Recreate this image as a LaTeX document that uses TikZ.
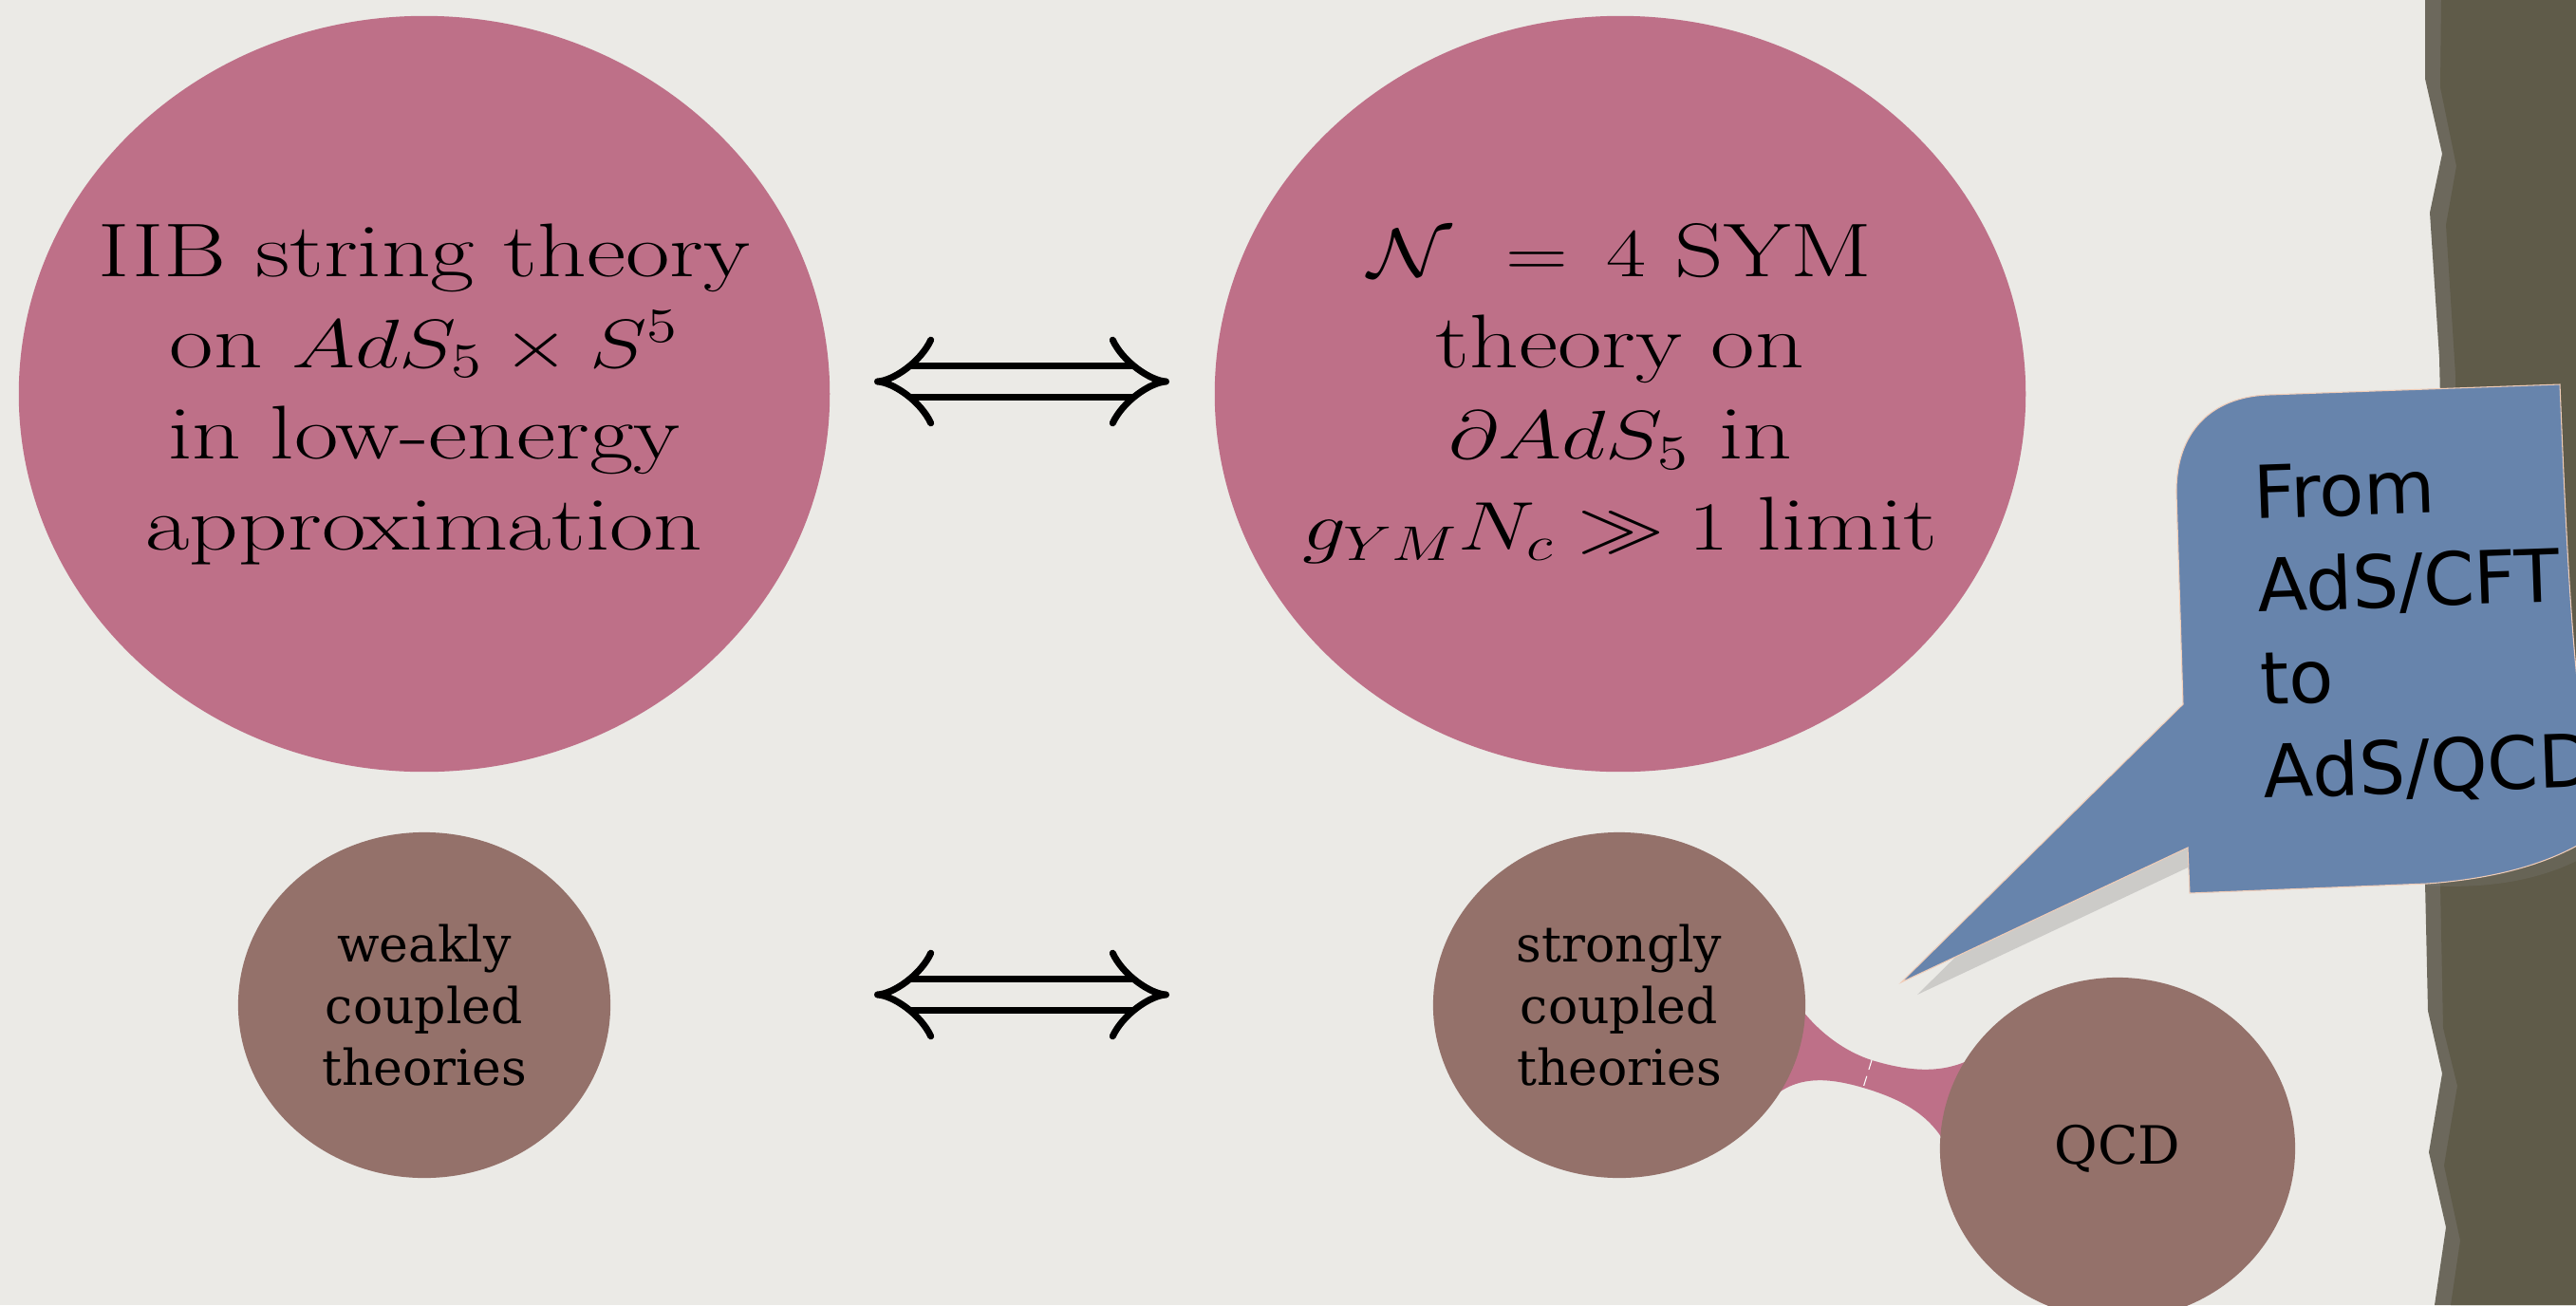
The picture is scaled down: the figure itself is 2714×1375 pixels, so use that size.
\RequirePackage{fix-cm}
\documentclass[tikz,border=0pt]{standalone}
\usepackage{amsmath,amssymb}
\usepackage{graphicx}
\usepackage{fontspec}
\usetikzlibrary{arrows.meta,shapes.geometric,positioning}

\newfontfamily\dvserif{DejaVu Serif}
\newfontfamily\dvsans{DejaVu Sans}
\DeclareMathSizes{22.8}{20.6}{14.6}{10.5}

\definecolor{bgcol}{HTML}{EBEAE6}
\definecolor{blobpink}{HTML}{BE7088}
\definecolor{blobbrown}{HTML}{94716A}
\definecolor{notecol}{HTML}{6784AC}
\definecolor{noteedge}{HTML}{F0CDB8}
\definecolor{stripdark}{HTML}{5F5B49}
\definecolor{striplight}{HTML}{6C685C}
\definecolor{shadowcol}{HTML}{CCCBC8}

% stretched math/text block for the big ellipses
\newcommand{\widetext}[1]{\scalebox{1.26}[1]{\parbox{7cm}{\centering #1}}}

\begin{document}
\begin{tikzpicture}[x=0.01cm,y=-0.01cm,
  bigblob/.style={ellipse,fill=blobpink,minimum width=8.54cm,minimum height=7.96cm,inner sep=0pt},
  bigtext/.style={inner sep=0pt,font=\fontsize{22.8}{27.3}\selectfont},
  smallblob/.style={ellipse,fill=blobbrown,minimum width=3.92cm,minimum height=3.64cm,inner sep=0pt,
    align=center,font=\dvserif\fontsize{14.8}{18.5}\selectfont},
  equiv/.style={double=bgcol,double distance=7.4pt,line width=2pt,Implies-Implies},
  notetext/.style={inner sep=0pt,align=left,font=\dvsans\fontsize{21.9}{27.9}\selectfont}]
\useasboundingbox (0,0) rectangle (2714,1375);
\fill[bgcol] (0,0) rectangle (2714,1375);

% torn strip on the right
\fill[striplight] (2555,0)--(2555,83)--(2573,162)--(2560,224)--(2570,377)--(2571,420)--(2560,600)
  --(2568,760)--(2555,930)--(2558,1065)--(2573,1131)--(2559,1214)--(2577,1293)--(2565,1375)
  --(2714,1375)--(2714,0)--cycle;
\fill[stripdark] (2572,0)--(2571,92)--(2588,175)--(2577,237)--(2587,395)--(2587,420)--(2576,600)
  --(2584,760)--(2571,930)--(2574,1083)--(2589,1144)--(2575,1228)--(2592,1307)--(2582,1375)
  --(2714,1375)--(2714,0)--cycle;

% link between strongly coupled and QCD
\fill[blobpink] (1880,1035) .. controls (1900,1075) and (1935,1105) .. (1972,1117)
  .. controls (2015,1130) and (2060,1135) .. (2100,1100) -- (2110,1150) -- (2060,1230)
  .. controls (2045,1180) and (2010,1160) .. (1963,1146)
  .. controls (1925,1135) and (1885,1130) .. (1855,1170) -- cycle;
\draw[white,densely dashed,line width=0.3pt] (1972,1117)--(1963,1146);

\node[bigblob] (iib) at (447,415) {};
\node[bigtext] (iibtext) at (iib) {\widetext{IIB string theory\\ on $AdS_5\times S^5$\\ in low-energy\\ approximation}};
\node[bigblob] (sym) at (1707,415) {};
\node[bigtext] (symtext) at (sym) {\widetext{$\mathcal{N}\ = \,4$ SYM\\ theory on\\ $\partial AdS_5$ in\\ $g_{YM}N_c\gg 1$ limit}};

\node[smallblob] (weak) at (447,1059) {weakly\\coupled\\theories};
\node[smallblob] (strong) at (1706,1059) {strongly\\coupled\\theories};
\node[smallblob,minimum width=3.74cm,minimum height=3.6cm,font=\dvserif\fontsize{15.8}{18.5}\selectfont] (qcd) at (2231,1210) {QCD};

\draw[equiv,shorten <=0.46cm,shorten >=0.47cm] ([yshift=0.13cm]iib.east) -- ([yshift=0.13cm]sym.west);
\draw[equiv,shorten <=2.77cm,shorten >=2.77cm] ([yshift=0.11cm]weak.east) -- ([yshift=0.11cm]strong.west);

% callout
\fill[shadowcol] (2020,1048)--(2322,906)--(2317,755)--cycle;
\fill[gray,opacity=0.25] (2557,931) .. controls (2640,925) and (2700,905) .. (2740,875)
  -- (2740,892) .. controls (2700,920) and (2640,938) .. (2557,933) -- cycle;
\filldraw[fill=notecol,draw=noteedge,line width=0.3pt] (2390,416) -- (2697,405)
  .. controls (2705,600) and (2712,760) .. (2740,875)
  .. controls (2700,905) and (2640,925) .. (2557,931) -- (2307,941) -- (2305,893)
  -- (2003,1035) -- (2300,742) -- (2293,520)
  .. controls (2292,455) and (2330,418) .. (2390,416) -- cycle;
\node[notetext,rotate=2,anchor=north west] (note) at (2373,490) {From\\AdS/CFT\\to\\AdS/QCD};
\end{tikzpicture}
\end{document}
